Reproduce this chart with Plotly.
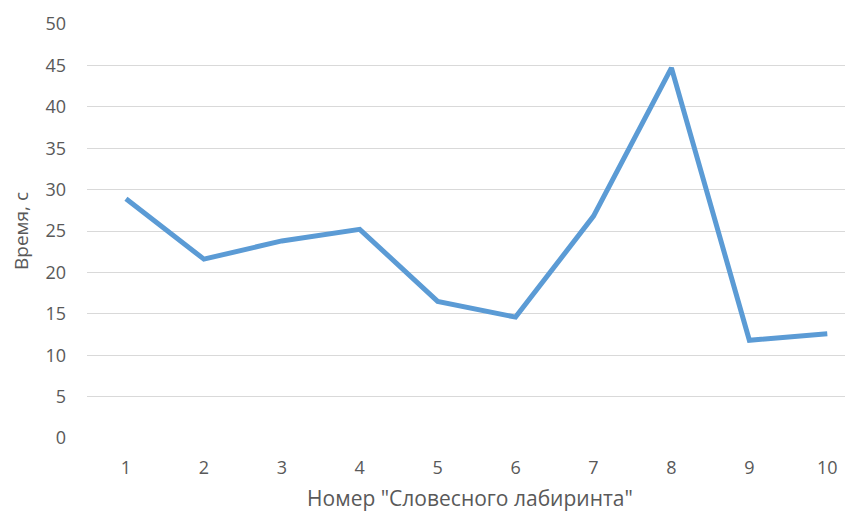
import plotly.graph_objects as go

labyrinth = [1, 2, 3, 4, 5, 6, 7, 8, 9, 10]
times = [28.9, 21.6, 23.8, 25.2, 16.5, 14.6, 26.8, 44.7, 11.8, 12.6]
y_ticks = [0, 5, 10, 15, 20, 25, 30, 35, 40, 45, 50]

fig = go.Figure(go.Scatter(
    x=labyrinth, y=times, mode="lines",
    line=dict(color="#5B9BD5", width=5),
))

font_family = "Open Sans, DejaVu Sans, sans-serif"
# page body has an 8px default margin, so the figure is offset by 8px
fig.update_layout(
    width=845, height=507,
    margin=dict(l=79, r=0, t=16, b=77),
    paper_bgcolor="white", plot_bgcolor="white",
    showlegend=False,
    font=dict(family=font_family, color="#595959", size=18),
    xaxis=dict(
        range=[0.5, 10.33], tickvals=labyrinth, ticktext=[str(v) for v in labyrinth],
        showgrid=False, zeroline=False, showline=False,
        ticks="", ticklabelstandoff=17,
        tickfont=dict(size=18, color="#595959"),
        title=dict(text='Номер "Словесного лабиринта"', font=dict(size=21, color="#595959"), standoff=13),
    ),
    yaxis=dict(
        range=[0, 50], tickvals=y_ticks,
        showgrid=True, gridcolor="#D9D9D9", gridwidth=1,
        zeroline=False, showline=False, ticks="",
        ticklabelstandoff=20,
        tickfont=dict(size=18, color="#595959"),
        title=dict(text="Время, с", font=dict(size=19, color="#595959"), standoff=16),
    ),
)

fig.write_html("out.html")
